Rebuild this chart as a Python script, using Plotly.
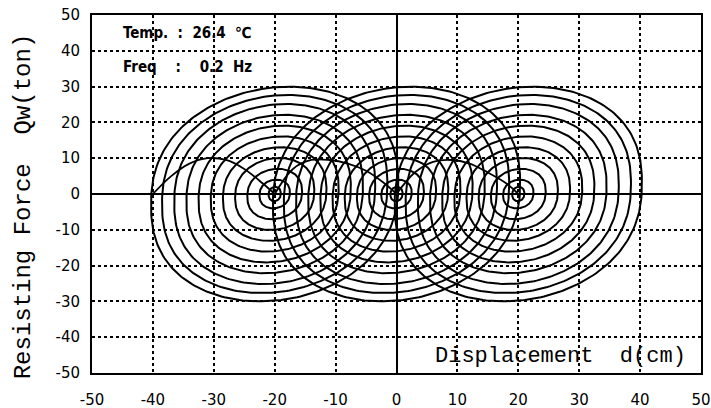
import numpy as np
import plotly.graph_objects as go

# ---- data ----
loop_centers = [-20.0, 0.0, 20.0]                     # mean displacement of each loop family (cm)
disp_amps = [1.0, 2.5, 4.5, 6.5, 8.5, 10.5, 12.5, 14.5, 16.5, 18.5, 20.3]   # cm
force_amps = [2.0, 4.0, 7.0, 10.0, 13.0, 16.0, 19.0, 22.0, 25.0, 27.5, 29.8]  # ton
stiffness = 0.15                                       # ton/cm tilt of loops
# offset-transition curves (x, y)
trans_x = [[-40, -37, -34, -31, -28, -25, -22, -20],
           [-20, -17, -14, -11, -8, -5, -2, 0],
           [0, 3, 6, 9, 12, 15, 18, 20]]
trans_y = [[0, 5, 8.5, 10, 9.5, 7, 3, 0],
           [0, 7, 9.5, 9.5, 8.5, 6.5, 3, 0],
           [0, 6, 9, 9.5, 8.5, 6, 3, 0]]
x_ticks = [-50, -40, -30, -20, -10, 0, 10, 20, 30, 40, 50]
y_ticks = [50, 40, 30, 20, 10, 0, -10, -20, -30, -40, -50]

fig = go.Figure()
t = np.linspace(0, 2 * np.pi, 241)
for c in loop_centers:
    for A, F in zip(disp_amps, force_amps):
        s = np.sin(t)
        co = np.cos(t)
        xs = c + A * s
        ys = F * np.sign(co) * np.abs(co) ** 0.85 + stiffness * A * s
        fig.add_trace(go.Scatter(x=xs, y=ys, mode="lines",
                                 line=dict(color="black", width=2),
                                 hoverinfo="skip", showlegend=False))
for tx, ty in zip(trans_x, trans_y):
    fig.add_trace(go.Scatter(x=tx, y=ty, mode="lines", line_shape="spline",
                             line=dict(color="black", width=1.8),
                             hoverinfo="skip", showlegend=False))

axis_common = dict(showgrid=True, gridcolor="black", griddash="dot", gridwidth=1.5,
                   zeroline=True, zerolinecolor="black", zerolinewidth=1.5,
                   showline=True, linecolor="black", linewidth=2, mirror=True,
                   automargin=False, ticks="",
                   tickfont=dict(family="DejaVu Sans", size=15, color="black"))
fig.update_xaxes(range=[-50, 50], tickvals=x_ticks, ticklabelstandoff=12,
                 ticktext=[str(v) for v in x_ticks], **axis_common)
fig.update_yaxes(range=[-50, 50], tickvals=y_ticks, ticklabelstandoff=7,
                 ticktext=[str(v) for v in y_ticks], **axis_common)

fig.add_annotation(xref="paper", yref="paper", x=-0.113, y=0.466, textangle=-90,
                   showarrow=False, xanchor="center", yanchor="middle",
                   text="Resisting Force  Qw(ton)",
                   font=dict(family="Liberation Mono", size=24, color="black"))
fig.add_annotation(x=26.9, y=-45.5, showarrow=False, xanchor="center", yanchor="middle",
                   text="Displacement  d(cm)",
                   font=dict(family="Liberation Mono", size=22, color="black"))
fig.add_annotation(x=-45.3, y=45, showarrow=False, xanchor="left", yanchor="middle",
                   text="<b>Temp.  :  26.4  ℃</b>",
                   font=dict(family="DejaVu Sans Condensed, DejaVu Sans", size=15, color="black"))
fig.add_annotation(x=-45.3, y=35.5, showarrow=False, xanchor="left", yanchor="middle",
                   text="<b>Freq    :    0.2  Hz</b>",
                   font=dict(family="DejaVu Sans Condensed, DejaVu Sans", size=15, color="black"))

fig.update_layout(width=711, height=408, margin=dict(l=92, r=10, t=15, b=35),
                  plot_bgcolor="white", paper_bgcolor="white")
fig.write_html("out.html", config={"displayModeBar": False},
               post_script="document.body.style.margin='0';document.body.style.overflow='hidden';")
